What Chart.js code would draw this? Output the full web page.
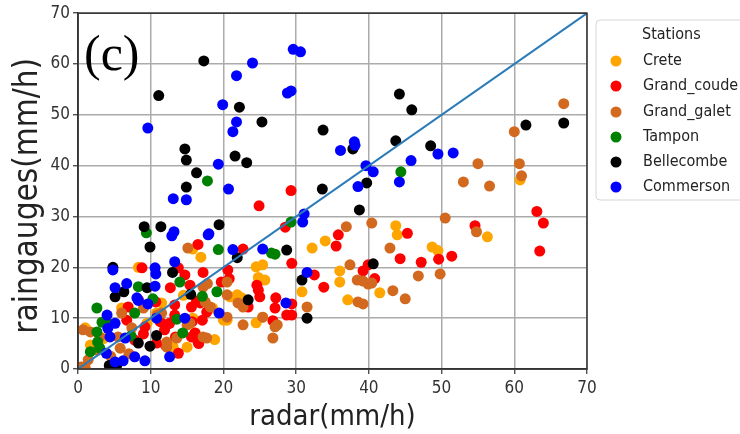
<!DOCTYPE html>
<html>
<head>
<meta charset="utf-8">
<script src="https://cdn.jsdelivr.net/npm/chart.js@4.4.1/dist/chart.umd.min.js"></script>
<style>
html,body{margin:0;padding:0;background:#fff;}
#wrap{width:740px;height:434px;position:relative;}
</style>
</head>
<body>
<div id="wrap"><canvas id="c" width="740" height="434"></canvas></div>
<script>
// ---- data (radar mm/h, raingauge mm/h) ----
const stations = ["Crete", "Grand_coude", "Grand_galet", "Tampon", "Bellecombe", "Commerson"];
const axisTicks = [0, 10, 20, 30, 40, 50, 60, 70];
const diagonal = [[0, 0], [70, 70]];

const crete = [[1.0,8.1],[1.7,4.7],[15.8,23.6],[16.9,22.0],[20.9,14.2],[20.5,9.6],[24.5,20.1],[25.4,20.5],[24.8,18.0],[25.7,17.5],[24.5,9.1],[25.4,10.2],[32.2,23.8],[34.0,25.2],[30.8,15.2],[36.0,19.3],[36.0,17.1],[37.1,13.6],[18.8,5.8],[15.0,4.3],[15.8,10.0],[13.1,4.3],[20.0,9.6],[41.5,15.0],[49.5,23.3],[43.7,28.2],[43.9,26.4],[56.3,26.0],[48.7,24.0],[60.8,37.2],[8.3,20.0],[16.1,7.1],[21.9,14.6],[11.5,13.0],[6.0,12.0],[14.5,14.5],[22.5,14.0],[18.5,12.0],[10.8,11.0],[3.5,6.0],[9.5,9.0]];
const grandCoude = [[24.9,32.1],[29.3,35.1],[16.5,24.5],[22.7,23.6],[28.5,27.9],[29.4,20.8],[33.8,16.1],[32.5,18.5],[20.6,19.5],[20.8,17.8],[19.7,17.1],[17.2,19.0],[14.7,18.5],[12.7,16.0],[8.8,19.9],[24.6,16.5],[24.8,15.5],[25.0,14.2],[27.2,14.0],[27.1,12.0],[26.8,9.5],[28.7,10.6],[29.4,12.8],[23.4,12.2],[16.3,13.4],[15.6,12.2],[16.6,5.0],[15.6,6.3],[13.4,6.3],[11.9,7.7],[12.6,9.0],[13.3,10.6],[9.0,6.9],[7.8,5.7],[8.3,13.6],[6.7,9.6],[17.7,11.2],[35.5,24.2],[35.8,26.4],[44.3,21.7],[47.2,21.0],[49.6,21.6],[51.4,22.2],[39.2,19.3],[39.9,20.5],[40.8,17.8],[54.6,28.2],[63.1,31.0],[64.0,28.7],[63.5,23.2],[45.3,26.7],[10.7,13.2],[11.3,9.3],[10.8,5.1],[6.9,12.2],[12.2,8.7],[12.0,4.7],[9.2,8.3],[15.7,9.3],[13.3,12.6],[13.8,19.9],[15.4,16.5],[13.8,3.1],[16.8,13.0],[17.1,9.6],[16.5,5.3],[16.1,7.1],[29.4,10.6]];
const grandGalet = [[66.8,52.2],[60.0,46.7],[55.0,40.4],[60.7,40.4],[61.0,38.0],[53.0,36.8],[56.6,36.0],[50.5,29.7],[54.8,27.0],[49.8,18.7],[42.9,23.8],[46.8,18.3],[43.3,15.4],[45.0,13.8],[40.4,28.7],[40.4,16.9],[36.9,28.0],[37.4,20.5],[38.4,17.5],[39.2,17.3],[39.9,16.7],[38.5,13.2],[39.2,12.8],[15.1,23.8],[0.7,7.7],[1.7,7.3],[22.7,12.2],[22.7,8.7],[26.8,6.1],[27.4,8.7],[17.2,6.3],[12.2,4.3],[15.4,9.0],[5.5,6.3],[5.8,4.1],[0.5,0.4],[1.4,1.8],[17.2,16.1],[18.2,12.2],[20.5,14.6],[31.5,12.2],[2.7,3.7],[1.0,0.2],[6.0,11.0],[7.4,8.1],[10.9,10.6],[12.2,5.3],[13.6,6.1],[15.0,8.7],[3.0,6.3],[17.5,13.2],[17.7,6.1],[20.5,10.2],[22.0,13.0],[25.4,10.2],[27.1,8.3],[20.5,17.1],[17.8,16.8],[9.0,12.0],[11.5,11.0],[7.0,3.0],[4.5,2.5]];
const tampon = [[17.8,37.0],[44.4,38.8],[29.3,28.9],[19.3,23.5],[26.6,22.8],[27.1,22.6],[9.4,26.8],[2.6,12.0],[14.0,17.1],[17.1,14.3],[19.1,15.2],[8.3,16.2],[14.4,7.1],[13.6,9.8],[3.0,4.1],[4.0,9.0],[2.6,7.3],[7.8,11.0],[10.3,13.8],[7.3,6.5],[1.7,3.4],[2.7,5.3],[3.3,9.2]];
const bellecombe = [[11.1,53.8],[17.3,60.6],[14.7,43.3],[14.9,41.1],[16.3,38.6],[14.9,35.8],[21.6,41.9],[22.2,51.5],[23.2,40.6],[25.3,48.6],[33.7,47.0],[33.6,35.4],[37.8,43.3],[38.7,31.3],[39.7,36.6],[44.2,54.1],[45.9,51.0],[43.7,44.9],[48.5,43.9],[61.6,48.0],[66.8,48.4],[9.1,28.0],[11.4,28.0],[9.9,24.0],[19.4,28.4],[28.7,23.4],[4.8,20.0],[5.1,14.2],[6.3,15.2],[9.5,16.0],[13.0,19.0],[15.5,14.7],[23.4,13.6],[8.3,5.1],[9.9,4.5],[10.8,6.6],[30.8,17.5],[31.5,10.0],[4.3,0.7],[5.3,0.6],[21.9,21.9],[40.6,20.7]];
const commerson = [[9.6,47.4],[13.1,33.5],[14.9,33.3],[19.3,40.3],[19.9,52.0],[20.7,35.4],[21.3,46.7],[21.8,48.6],[21.8,57.7],[24.0,60.2],[28.8,54.3],[29.3,54.7],[29.6,62.9],[30.6,62.4],[31.1,30.5],[30.9,28.9],[36.1,43.0],[38.0,44.7],[38.1,44.0],[38.5,35.9],[39.6,40.0],[40.6,38.8],[44.2,36.8],[45.8,41.0],[49.5,42.3],[51.6,42.5],[17.9,26.4],[21.3,23.5],[25.4,23.6],[12.9,26.2],[13.2,27.0],[4.8,19.5],[5.1,16.0],[6.7,16.8],[8.1,14.0],[8.3,13.5],[4.0,10.6],[4.1,8.0],[5.1,9.0],[4.4,6.3],[6.5,6.1],[3.9,3.1],[5.1,1.4],[6.2,1.6],[7.8,2.4],[9.2,1.6],[10.6,19.9],[10.7,18.7],[9.6,12.8],[10.6,16.3],[12.6,2.4],[13.3,21.1],[14.7,10.0],[18.0,26.6],[19.4,11.0],[28.6,13.0],[31.5,19.0],[10.8,10.0]];

const seriesValues = [crete, grandCoude, grandGalet, tampon, bellecombe, commerson];
const seriesColors = ["#ffa500", "#ff0000", "#d2691e", "#008000", "#000000", "#0000ff"];

const toXY = arr => arr.map(p => ({x: p[0], y: p[1]}));

const datasets = [{
  label: "y=x",
  data: toXY(diagonal),
  showLine: true,
  borderColor: "#2b7bb9",
  borderWidth: 2,
  pointRadius: 0,
  order: 0
}];
stations.forEach((name, i) => {
  datasets.push({
    label: name,
    data: toXY(seriesValues[i]),
    backgroundColor: seriesColors[i],
    borderColor: seriesColors[i],
    borderWidth: 0,
    pointRadius: 5.5,
    pointHoverRadius: 5.5,
    order: stations.length - i
  });
});

const FONT = "'DejaVu Sans Condensed', 'DejaVu Sans', sans-serif";

const extras = {
  id: "extras",
  afterDatasetsDraw(chart) {
    const ctx = chart.ctx;
    const a = chart.chartArea;
    ctx.save();
    // frame
    ctx.strokeStyle = "#333";
    ctx.lineWidth = 1.5;
    ctx.strokeRect(a.left, a.top, a.right - a.left, a.bottom - a.top);
    // (c) label
    ctx.fillStyle = "#000";
    ctx.font = "50px 'Liberation Serif', 'Times New Roman', serif";
    ctx.textBaseline = "alphabetic";
    ctx.textAlign = "left";
    ctx.fillText("(c)", 84, 70);
    // legend
    const lx = 596, ly = 20, lw = 220, lh = 180, r = 4;
    ctx.beginPath();
    ctx.moveTo(lx + r, ly);
    ctx.lineTo(lx + lw - r, ly);
    ctx.arcTo(lx + lw, ly, lx + lw, ly + r, r);
    ctx.lineTo(lx + lw, ly + lh - r);
    ctx.arcTo(lx + lw, ly + lh, lx + lw - r, ly + lh, r);
    ctx.lineTo(lx + r, ly + lh);
    ctx.arcTo(lx, ly + lh, lx, ly + lh - r, r);
    ctx.lineTo(lx, ly + r);
    ctx.arcTo(lx, ly, lx + r, ly, r);
    ctx.closePath();
    ctx.fillStyle = "rgba(255,255,255,0.9)";
    ctx.fill();
    ctx.strokeStyle = "#d6d6d6";
    ctx.lineWidth = 1;
    ctx.stroke();
    ctx.fillStyle = "#222";
    ctx.font = "16px " + FONT;
    ctx.textBaseline = "middle";
    ctx.fillText("Stations", 642, 35);
    const ys = [61, 86, 112, 137, 162, 187];
    stations.forEach((name, i) => {
      ctx.beginPath();
      ctx.arc(616, ys[i], 5.5, 0, Math.PI * 2);
      ctx.fillStyle = seriesColors[i];
      ctx.fill();
      ctx.fillStyle = "#222";
      ctx.fillText(name, 643, ys[i]);
    });
    ctx.restore();
  }
};

new Chart(document.getElementById("c"), {
  type: "scatter",
  data: { datasets },
  plugins: [extras],
  options: {
    responsive: false,
    devicePixelRatio: 1,
    animation: false,
    events: [],
    layout: { padding: { left: 0, right: 153, top: 13, bottom: 0 } },
    plugins: { legend: { display: false }, tooltip: { enabled: false } },
    scales: {
      x: {
        type: "linear",
        min: axisTicks[0],
        max: axisTicks[axisTicks.length - 1],
        afterBuildTicks: s => { s.ticks = axisTicks.map(v => ({value: v})); },
        afterFit: s => { s.height = 65; },
        ticks: { color: "#333", font: { family: FONT, size: 17 }, padding: 4 },
        grid: { color: "#ababab", lineWidth: 1.5, tickLength: 5, tickColor: "#333", tickWidth: 1.2 },
        border: { display: true, color: "#333", width: 1.5 },
        title: { display: true, text: "radar(mm/h)", color: "#222", font: { family: FONT, size: 29, lineHeight: 1 }, padding: { top: 0, bottom: 2 } }
      },
      y: {
        type: "linear",
        min: axisTicks[0],
        max: axisTicks[axisTicks.length - 1],
        afterBuildTicks: s => { s.ticks = axisTicks.map(v => ({value: v})); },
        afterFit: s => { s.width = 78; },
        ticks: { color: "#333", font: { family: FONT, size: 17 }, padding: 3 },
        grid: { color: "#ababab", lineWidth: 1.5, tickLength: 5, tickColor: "#333", tickWidth: 1.2 },
        border: { display: true, color: "#333", width: 1.5 },
        title: { display: true, text: "raingauges(mm/h) ", color: "#222", font: { family: FONT, size: 33, lineHeight: 1 }, padding: { top: 12, bottom: 0 } }
      }
    }
  }
});
</script>
</body>
</html>
